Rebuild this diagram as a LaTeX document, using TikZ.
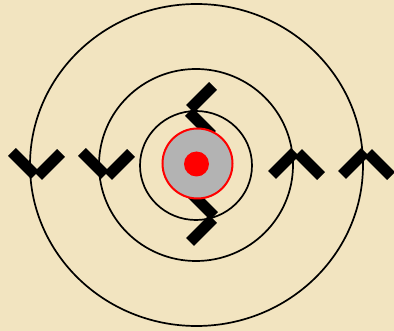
\documentclass[tikz,border=0pt]{standalone}
\usepackage{tikz}
\usetikzlibrary{positioning}
\definecolor{parchment}{RGB}{242,228,192}
\definecolor{nucleusgray}{RGB}{179,179,179}

\begin{document}
\begin{tikzpicture}[
    x=1pt, y=-1pt,
    shell/.style={draw=black, line width=1.7pt},
    spinmark/.pic={
        \draw[line width=11pt, line cap=butt] (-24,-25) -- (-1,-2);
        \draw[line width=11pt, line cap=butt] (2,-1) -- (25,-24);
    }
]
\useasboundingbox (0,0) rectangle (394,331);
\fill[parchment] (0,0) rectangle (394,331);

% spin marks on the shells
\pic at (36,177) {spinmark};
\pic at (106,177) {spinmark};
\pic[rotate=180] at (297,151) {spinmark};
\pic[rotate=180] at (367,151) {spinmark};
\pic[rotate=-90] at (188,110) {spinmark};
\pic[rotate=90] at (215,218) {spinmark};

% shells
\draw[shell] (196.5,165) ellipse [x radius=166.5, y radius=161];
\draw[shell] (196,165) ellipse [x radius=97, y radius=96];
\draw[shell] (196,165.5) ellipse [x radius=56, y radius=54.5];

% nucleus
\node[circle, fill=nucleusgray, draw=red, line width=2pt, minimum size=70pt, inner sep=0pt] (nucleus) at (197.5,163.5) {};
\node[circle, fill=red, minimum size=25pt, inner sep=0pt] (core) at (196.5,164) {};
\end{tikzpicture}
\end{document}
